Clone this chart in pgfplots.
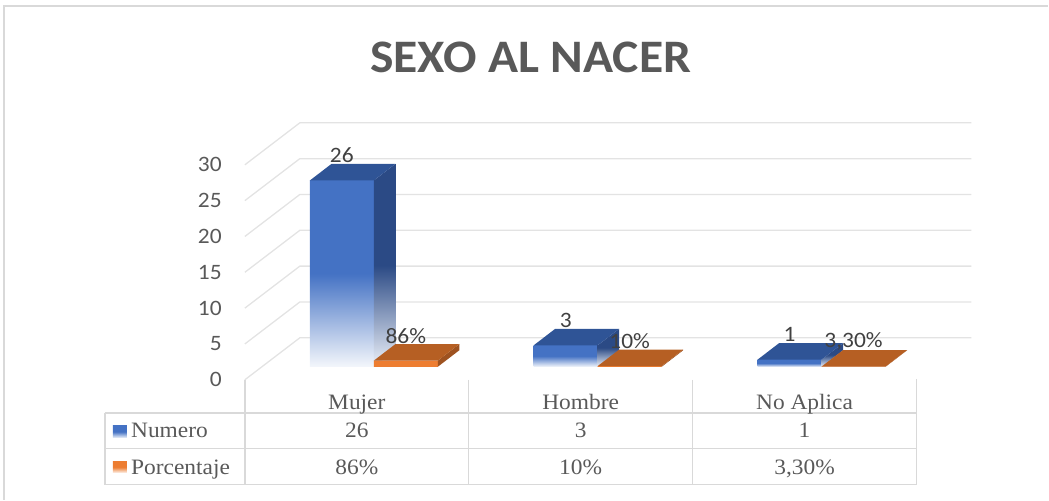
\documentclass[border=0pt]{standalone}
\usepackage{pgfplots}
\pgfplotsset{compat=1.18}
\usepackage{fontspec}
\newfontfamily\calibri{Carlito}[FakeStretch=1.065]
\newfontfamily\tnr{Liberation Serif}[FakeStretch=1.065]
\definecolor{cblue}{HTML}{4472C4}
\definecolor{cbluetop}{HTML}{2F5496}
\definecolor{cblueside}{HTML}{2B4A85}
\definecolor{corange}{HTML}{ED7D31}
\definecolor{corangetop}{HTML}{B65F23}
\definecolor{corangeside}{HTML}{9E5220}
\definecolor{txt}{HTML}{595959}
\definecolor{lbl}{HTML}{404040}
\definecolor{gridc}{HTML}{E3E3E3}
\definecolor{tabc}{HTML}{D9D9D9}
\def\bw{0.2857}
\def\fdx{0.076}\def\fdy{1.813}
\def\bdx{0.172}\def\bdy{4.114}
% #1 left x (front plane), #2 value, #3 front style, #4 top colour, #5 side style
\newcommand{\threedbar}[5]{%
 \pgfmathsetmacro\xa{#1+\fdx}%
 \pgfmathsetmacro\xb{#1+\bw+\fdx}%
 \pgfmathsetmacro\xc{#1+\bw+\bdx}%
 \pgfmathsetmacro\xd{#1+\bdx}%
 \pgfmathsetmacro\yb{#2+\fdy}%
 \pgfmathsetmacro\yd{#2+\bdy}%
 \edef\temp{%
  \noexpand\addplot[draw=none,mark=none,#3] coordinates {(\xa,\fdy) (\xb,\fdy) (\xb,\yb) (\xa,\yb) (\xa,\fdy)};
  \noexpand\addplot[draw=none,mark=none,#5] coordinates {(\xb,\fdy) (\xc,\bdy) (\xc,\yd) (\xb,\yb) (\xb,\fdy)};
  \noexpand\addplot[draw=none,mark=none,fill=#4] coordinates {(\xa,\yb) (\xb,\yb) (\xc,\yd) (\xd,\yd) (\xa,\yb)};
 }\temp}
\begin{document}
\begin{tikzpicture}
\begin{axis}[
  x=224pt, y=7.17pt,
  xmin=-1.59375, xmax=3.0893, ymin=-16.736, ymax=53.0,
  hide axis, clip=false,
]
\draw[draw=none] (rel axis cs:0,0) rectangle (rel axis cs:1,1);
% outer border (left and top)
\addplot[tabc, line width=1.2pt, mark=none] coordinates {(-1.5759,-16.736) (-1.5759,52.16) (3.0893,52.16)};
% title
\node[anchor=base, inner sep=0pt, text=txt, font=\calibri\bfseries\fontsize{46.6}{50}\selectfont] at (axis cs:0.7768,42.82) {SEXO AL NACER};
% gridlines: side wall and back wall
\addplot[gridc, line width=1.3pt, mark=none] coordinates {(-0.5,0) (-0.2545,5.858) (2.7455,5.858)};
\addplot[gridc, line width=1.3pt, mark=none] coordinates {(-0.5,5) (-0.2545,10.858) (2.7455,10.858)};
\addplot[gridc, line width=1.3pt, mark=none] coordinates {(-0.5,10) (-0.2545,15.858) (2.7455,15.858)};
\addplot[gridc, line width=1.3pt, mark=none] coordinates {(-0.5,15) (-0.2545,20.858) (2.7455,20.858)};
\addplot[gridc, line width=1.3pt, mark=none] coordinates {(-0.5,20) (-0.2545,25.858) (2.7455,25.858)};
\addplot[gridc, line width=1.3pt, mark=none] coordinates {(-0.5,25) (-0.2545,30.858) (2.7455,30.858)};
\addplot[gridc, line width=1.3pt, mark=none] coordinates {(-0.5,30) (-0.2545,35.858) (2.7455,35.858)};
% y tick labels
\pgfplotsinvokeforeach{0,5,10,15,20,25,30}{
  \node[anchor=east, inner sep=0pt, text=txt, font=\calibri\fontsize{22}{24}\selectfont] at (axis cs:-0.6027,#1) {#1};
}
% bars
\threedbar{-0.2857}{26}{top color=cblue,bottom color=cblue!6,middle color=cblue}{cbluetop}{top color=cblueside,bottom color=cblue!10,middle color=cblueside}
\threedbar{0}{0.86}{fill=corange}{corangetop}{fill=corangeside}
\threedbar{0.7143}{3}{top color=cblue,bottom color=cblue!6,middle color=cblue}{cbluetop}{top color=cblueside,bottom color=cblue!10,middle color=cblueside}
\threedbar{1}{0.10}{fill=corange}{corangetop}{fill=corangeside}
\threedbar{1.7143}{1}{top color=cblue,bottom color=cblue!6,middle color=cblue}{cbluetop}{top color=cblueside,bottom color=cblue!10,middle color=cblueside}
\threedbar{2}{0.033}{fill=corange}{corangetop}{fill=corangeside}
% data labels
\addplot[draw=none, mark=none, nodes near coords, point meta=explicit symbolic,
  every node near coord/.append style={anchor=center, yshift=25pt, inner sep=0pt, text=lbl, font=\calibri\fontsize{22}{24}\selectfont}]
  table[x expr=\thisrow{x}+0.076, y expr=\thisrow{v}+1.813, meta=lab] {
x v lab
-0.142857 26 26
0.142857 0.86 86\%
0.857143 3 3
1.142857 0.10 10\%
1.857143 1 1
2.142857 0.033 3,30\%
};
% data table lines
\addplot[tabc, line width=1.5pt, mark=none] coordinates {(-1.125,-4.6025) (2.5,-4.6025)};
\addplot[tabc, line width=1.5pt, mark=none] coordinates {(-1.125,-9.6234) (2.5,-9.6234)};
\addplot[tabc, line width=1.5pt, mark=none] coordinates {(-1.125,-14.644) (2.5,-14.644)};
\addplot[tabc, line width=1.5pt, mark=none] coordinates {(-1.125,-4.6025) (-1.125,-14.644)};
\addplot[tabc, line width=1.5pt, mark=none] coordinates {(-0.5,0) (-0.5,-14.644)};
\addplot[tabc, line width=1.5pt, mark=none] coordinates {(0.5,0) (0.5,-14.644)};
\addplot[tabc, line width=1.5pt, mark=none] coordinates {(1.5,0) (1.5,-14.644)};
\addplot[tabc, line width=1.5pt, mark=none] coordinates {(2.5,0.139) (2.5,-14.644)};
% legend keys
\addplot[draw=none, mark=none, top color=cblue, bottom color=cblue!10, middle color=cblue] coordinates {(-1.0893,-6.416) (-1.0268,-6.416) (-1.0268,-8.089) (-1.0893,-8.089) (-1.0893,-6.416)};
\addplot[draw=none, mark=none, top color=corange, bottom color=corange!10, middle color=corange] coordinates {(-1.0893,-11.437) (-1.0268,-11.437) (-1.0268,-12.971) (-1.0893,-12.971) (-1.0893,-11.437)};
% table text
\begin{scope}[every node/.style={inner sep=0pt, text=txt, font=\tnr\fontsize{22}{24}\selectfont}]
\node[anchor=base] at (axis cs:0,-4.184) {Mujer};
\node[anchor=base] at (axis cs:1,-4.184) {Hombre};
\node[anchor=base] at (axis cs:2,-4.184) {No Aplica};
\node[anchor=base west] at (axis cs:-1.0089,-8.089) {Numero};
\node[anchor=base west] at (axis cs:-1.0089,-13.18) {Porcentaje};
\node[anchor=base] at (axis cs:0,-8.089) {26};
\node[anchor=base] at (axis cs:1,-8.089) {3};
\node[anchor=base] at (axis cs:2,-8.089) {1};
\node[anchor=base] at (axis cs:0,-13.18) {86\%};
\node[anchor=base] at (axis cs:1,-13.18) {10\%};
\node[anchor=base] at (axis cs:2,-13.18) {3,30\%};
\end{scope}
\end{axis}
\end{tikzpicture}
\end{document}
